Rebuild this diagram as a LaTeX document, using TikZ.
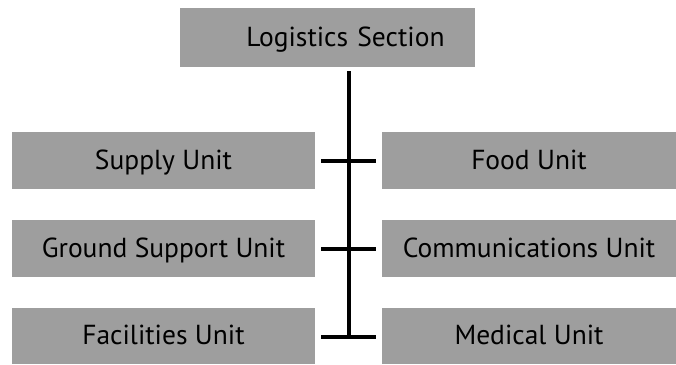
\documentclass[tikz,border=0pt]{standalone}
\usepackage{fontspec}
\setmainfont{PT Sans}
\begin{document}
\begin{tikzpicture}[x=1pt,y=-1pt,
  box/.style={fill=black!38, draw=none, inner sep=0pt, minimum height=57pt,
    font=\fontsize{27.5}{30}\selectfont, text depth=0.22em},
  leftbox/.style={box, minimum width=303pt},
  rightbox/.style={box, minimum width=294pt},
  conn/.style={line width=4pt, black}]
\useasboundingbox (0,0) rectangle (676,364);
\node[box, minimum height=59pt, text width=295pt, align=center] (logi) at (327.5,37.5) {\hspace*{36pt}Logistics Section};
\node[leftbox] (supply) at (163.5,160.5) {Supply Unit};
\node[rightbox] (food) at (529,160.5) {Food Unit};
\node[leftbox] (ground) at (163.5,248.5) {Ground Support Unit};
\node[rightbox] (comm) at (529,248.5) {Communications Unit};
\node[leftbox, minimum height=56pt] (facil) at (163.5,336) {Facilities Unit};
\node[rightbox, minimum height=56pt] (medical) at (529,336) {Medical Unit};
\coordinate (top) at (349,71);
\coordinate (bottom) at (349,335);
\draw[conn] (top) -- (bottom);
\draw[conn] ([xshift=6pt]supply.east) -- ([xshift=-6pt]food.west);
\draw[conn] ([xshift=6pt]ground.east) -- ([xshift=-6pt]comm.west);
\draw[conn] ([xshift=6pt,yshift=-1pt]facil.east) -- ([xshift=-6pt,yshift=-1pt]medical.west);
\end{tikzpicture}
\end{document}
